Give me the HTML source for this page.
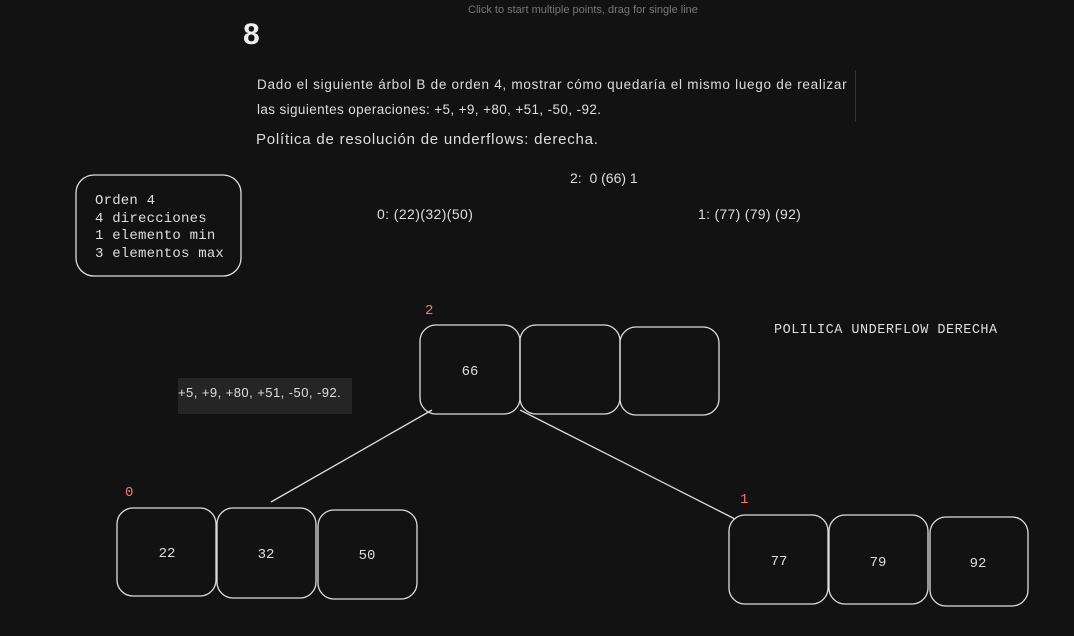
<!DOCTYPE html>
<html><head><meta charset="utf-8"><style>
body{margin:0;width:1074px;height:636px;background:#121212;overflow:hidden;position:relative;font-family:"Liberation Sans",sans-serif;color:#ddd}
.t{position:absolute;white-space:nowrap}
.m{font-family:"Liberation Mono",monospace}
</style></head><body>
<div class="t" style="left:468px;top:4px;font-size:11px;color:#777">Click to start multiple points, drag for single line</div>
<div class="t" style="left:243px;top:18px;font-size:30px;font-weight:bold;color:#eee">8</div>
<div class="t" style="left:257px;top:77px;font-size:13.5px;color:#ddd;letter-spacing:0.73px">Dado el siguiente árbol B de orden 4, mostrar cómo quedaría el mismo luego de realizar</div>
<div class="t" style="left:257px;top:102px;font-size:13.5px;color:#ddd;letter-spacing:0.38px">las siguientes operaciones: +5, +9, +80, +51, -50, -92.</div>
<div style="position:absolute;left:855px;top:70px;width:1px;height:52px;background:#333"></div>
<div class="t" style="left:256px;top:131px;font-size:15px;color:#ddd;letter-spacing:0.78px">Política de resolución de underflows: derecha.</div>
<div class="t" style="left:570px;top:170px;font-size:14px">2:&nbsp; 0 (66) 1</div>
<div class="t" style="left:377px;top:206px;font-size:14px;letter-spacing:0.4px">0: (22)(32)(50)</div>
<div class="t" style="left:698px;top:206px;font-size:14px;letter-spacing:0.3px">1: (77) (79) (92)</div>
<div style="position:absolute;left:178px;top:378px;width:174px;height:36px;background:#252525"></div>
<div class="t" style="left:178px;top:385px;font-size:13px;color:#ddd;letter-spacing:0.45px">+5, +9, +80, +51, -50, -92.</div>
<div class="t m" style="left:95px;top:193px;font-size:14px;line-height:17.5px;color:#ddd;letter-spacing:0.2px">Orden 4<br>4 direcciones<br>1 elemento min<br>3 elementos max</div>
<div class="t m" style="left:774px;top:323px;font-size:13.5px;color:#ddd;letter-spacing:0.5px">POLILICA UNDERFLOW DERECHA</div>
<div class="t m" style="left:425px;top:303px;font-size:14px;color:#ff7070">2</div>
<div class="t m" style="left:125px;top:485px;font-size:14px;color:#ff7070">0</div>
<div class="t m" style="left:740px;top:492px;font-size:14px;color:#ff7070">1</div>
<svg width="1074" height="636" style="position:absolute;left:0;top:0" fill="none" stroke="#ddd" stroke-width="1.3">
<rect x="76" y="175" width="165" height="101" rx="18"/>
<rect x="420" y="325" width="100" height="89" rx="16"/>
<rect x="520" y="325" width="100" height="89" rx="16"/>
<rect x="620" y="327" width="99" height="88" rx="16"/>
<rect x="117" y="508" width="99" height="88" rx="16"/>
<rect x="217" y="508" width="99" height="90" rx="16"/>
<rect x="318" y="510" width="99" height="89" rx="16"/>
<rect x="729" y="515" width="99" height="89" rx="16"/>
<rect x="829" y="515" width="99" height="89" rx="16"/>
<rect x="930" y="517" width="98" height="89" rx="16"/>
<line x1="432" y1="410" x2="271" y2="502"/>
<line x1="520" y1="410" x2="735" y2="519"/>
<g fill="#ddd" stroke="none" font-family="Liberation Mono,monospace" font-size="14" text-anchor="middle">
<text x="470" y="375">66</text>
<text x="167" y="557">22</text><text x="266" y="558">32</text><text x="367" y="559">50</text>
<text x="779" y="565">77</text><text x="878" y="566">79</text><text x="978" y="567">92</text>
</g>
</svg>
</body></html>
